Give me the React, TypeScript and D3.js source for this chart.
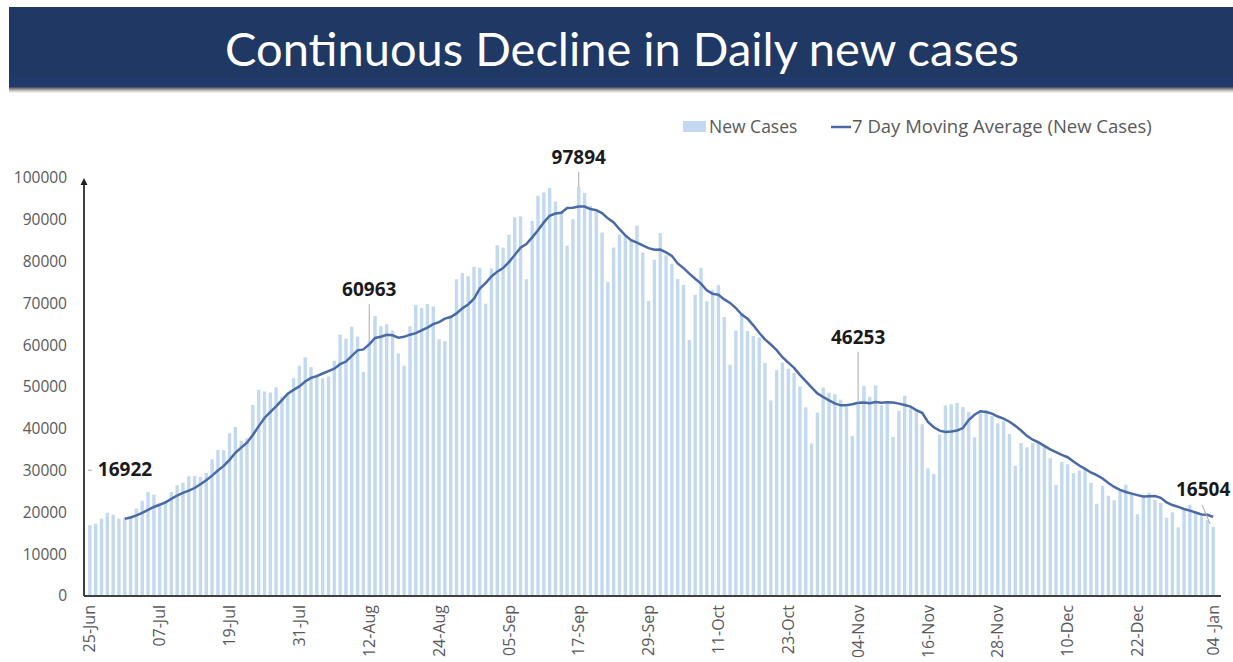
import * as d3 from "d3";

// daily new cases, 25-Jun to 04-Jan
const junCases = [16922, 17296, 18552, 19906, 19459, 18522];
const julCases = [
  18653, 19148, 20903, 22771, 24850, 24248, 22252, 22752, 24879, 26506, 27114,
  28637, 28701, 28498, 29429, 32695, 34956, 34884, 38902, 40425, 37148, 37724,
  45720, 49310, 48916, 48661, 49931, 47704, 48513, 52123, 55078,
];
const augCases = [
  57118, 54735, 52972, 52050, 52509, 56282, 62538, 61537, 64399, 62064, 53601,
  60963, 66999, 64553, 65002, 63490, 57981, 55079, 64531, 69652, 68898, 69878,
  69239, 61408, 60975, 67151, 75760, 77266, 76472, 78761, 78512,
];
const sepCases = [
  69921, 78357, 83883, 83341, 86432, 90632, 90802, 75809, 89706, 95735, 96551,
  97570, 94372, 92071, 83809, 90123, 97894, 96424, 93337, 92605, 86961, 75083,
  83347, 86508, 86052, 85362, 88600, 82170, 70589, 80472,
];
const octCases = [
  86821, 81484, 79476, 75829, 74442, 61267, 72049, 78524, 70496, 73272, 74383,
  66732, 55342, 63509, 67708, 63371, 62212, 61871, 55722, 46790, 54044, 55839,
  54366, 53370, 50129, 45149, 36470, 43893, 49881, 48648, 48268,
];
const novCases = [
  46963, 45231, 38310, 46253, 50210, 47638, 50356, 45674, 45903, 38073, 44281,
  47905, 44879, 44684, 41100, 30548, 29163, 38617, 45576, 45882, 46232, 45209,
  44059, 37975, 44376, 44489, 43082, 41322, 41810, 38772,
];
const decCases = [
  31118, 36604, 35551, 36594, 36652, 36011, 32981, 26567, 32080, 31521, 29398,
  30006, 30254, 27071, 22065, 26382, 24010, 22890, 25152, 26624, 24337, 19556,
  23950, 24712, 23068, 22273, 18732, 20021, 16432, 20550, 21822,
];
const janCases = [20035, 19078, 18177, 16504];

const tickLabels = [
  "25-Jun", "07-Jul", "19-Jul", "31-Jul", "12-Aug", "24-Aug", "05-Sep",
  "17-Sep", "29-Sep", "11-Oct", "23-Oct", "04-Nov", "16-Nov", "28-Nov",
  "10-Dec", "22-Dec", "04 -Jan",
];
const tickIndex = [0, 12, 24, 36, 48, 60, 72, 84, 96, 108, 120, 132, 144, 156, 168, 180, 193];
const yTicks = [0, 10000, 20000, 30000, 40000, 50000, 60000, 70000, 80000, 90000, 100000];

// labelled days (index into the series)
const calloutIndex = [0, 48, 84, 132, 193];

const cases = [
  ...junCases, ...julCases, ...augCases, ...sepCases,
  ...octCases, ...novCases, ...decCases, ...janCases,
];

const W = 1233;
const H = 662;
const x0 = 87;
const x1 = 1216;
const yBase = 596;
const yTop = 178;
const font = "'Open Sans', sans-serif";

const App = () => {
  const xScale = d3.scaleBand<number>()
    .domain(d3.range(cases.length))
    .range([x0, x1])
    .paddingInner(0.42)
    .paddingOuter(0.2);
  const yScale = d3.scaleLinear().domain([0, 100000]).range([yBase, yTop]);
  const cx = (i: number) => (xScale(i) ?? 0) + xScale.bandwidth() / 2;

  // 7 day trailing moving average, like the spreadsheet trendline
  const avg = cases
    .map((_, i) => (i < 6 ? null : { i, v: d3.mean(cases.slice(i - 6, i + 1)) as number }))
    .filter((d): d is { i: number; v: number } => d !== null);

  const line = d3.line<{ i: number; v: number }>()
    .x((d) => cx(d.i))
    .y((d) => yScale(d.v));

  // label placement for each callout: [dx, dy from bar top, anchor]
  const calloutLayout: [number, number, string][] = [
    [8, -49, "start"],
    [0, -45, "middle"],
    [0, -23, "middle"],
    [0, -59, "middle"],
    [-10, -31, "middle"],
  ];

  return (
    <svg width={W} height={H} style={{ position: "absolute", left: 0, top: 0, background: "#fff" }}>
      <defs>
        <linearGradient id="shadow" x1="0" y1="0" x2="0" y2="1">
          <stop offset="0%" stopColor="#2a2a38" stopOpacity={0.9} />
          <stop offset="100%" stopColor="#fdf6ea" stopOpacity={0.6} />
        </linearGradient>
      </defs>

      {/* title banner */}
      <rect x={9} y={7} width={W - 9} height={80} fill="#1f3864" />
      <rect x={9} y={78} width={W - 9} height={9} fill="#213a6c" />
      <rect x={9} y={87} width={W - 9} height={6} fill="url(#shadow)" />
      <text x={622} y={66} textAnchor="middle" fill="#fff"
        style={{ fontFamily: "Lato, sans-serif", fontSize: 47 }}>
        Continuous Decline in Daily new cases
      </text>

      {/* legend */}
      <rect x={683} y={121} width={23} height={11} fill="#c2d9ef" />
      <text x={709} y={133} fill="#595959" style={{ fontFamily: font, fontSize: 17.5 }}>New Cases</text>
      <line x1={831} x2={851} y1={127} y2={127} stroke="#4a6aa5" strokeWidth={2.5} />
      <text x={852} y={133} fill="#595959" style={{ fontFamily: font, fontSize: 18.5 }}>
        7 Day Moving Average (New Cases)
      </text>

      {/* bars */}
      {cases.map((v, i) => (
        <rect key={i} x={xScale(i)} y={yScale(v)} width={xScale.bandwidth()}
          height={yBase - yScale(v)} fill="#c2d9ef" />
      ))}

      {/* moving average */}
      <path d={line(avg) ?? ""} fill="none" stroke="#4a6aa5" strokeWidth={2.5} />

      {/* axes */}
      <line x1={84} x2={1221} y1={yBase} y2={yBase} stroke="#404040" strokeWidth={2} />
      <line x1={84} x2={84} y1={yBase} y2={yTop + 6} stroke="#404040" strokeWidth={2} />
      <path d={`M84,${yTop} L80.5,${yTop + 7} L87.5,${yTop + 7} Z`} fill="#222" />
      {yTicks.map((t) => (
        <text key={t} x={67} y={yScale(t)} dy="0.35em" textAnchor="end" fill="#595959"
          style={{ fontFamily: font, fontSize: 15.5 }}>
          {t}
        </text>
      ))}
      {tickIndex.map((idx, k) => (
        <text key={idx} transform={`translate(${cx(idx)},${yBase + 9}) rotate(-90)`}
          dy="0.35em" textAnchor="end" fill="#595959"
          style={{ fontFamily: font, fontSize: 16 }}>
          {tickLabels[k]}
        </text>
      ))}

      {/* callouts */}
      {calloutIndex.map((idx, k) => {
        const [dx, dy, anchor] = calloutLayout[k];
        const bx = cx(idx);
        const by = yScale(cases[idx]);
        const tx = bx + dx;
        const ty = by + dy;
        let leader = null;
        if (k === 0) {
          leader = <line x1={bx - 2} x2={bx + 2} y1={ty - 6} y2={ty - 6} stroke="#aaa" strokeWidth={1} />;
        } else if (k === 4) {
          leader = <line x1={bx - 11} y1={ty + 9} x2={bx - 3} y2={by - 3} stroke="#aaa" strokeWidth={1} />;
        } else {
          leader = <line x1={bx} x2={bx} y1={ty + 8} y2={by} stroke="#aaa" strokeWidth={1} />;
        }
        return (
          <g key={idx}>
            {leader}
            <text x={tx} y={ty} textAnchor={anchor} fill="#1a1a1a"
              style={{ fontFamily: font, fontSize: 19, fontWeight: 700 }}>
              {cases[idx]}
            </text>
          </g>
        );
      })}
    </svg>
  );
};

export default App;
